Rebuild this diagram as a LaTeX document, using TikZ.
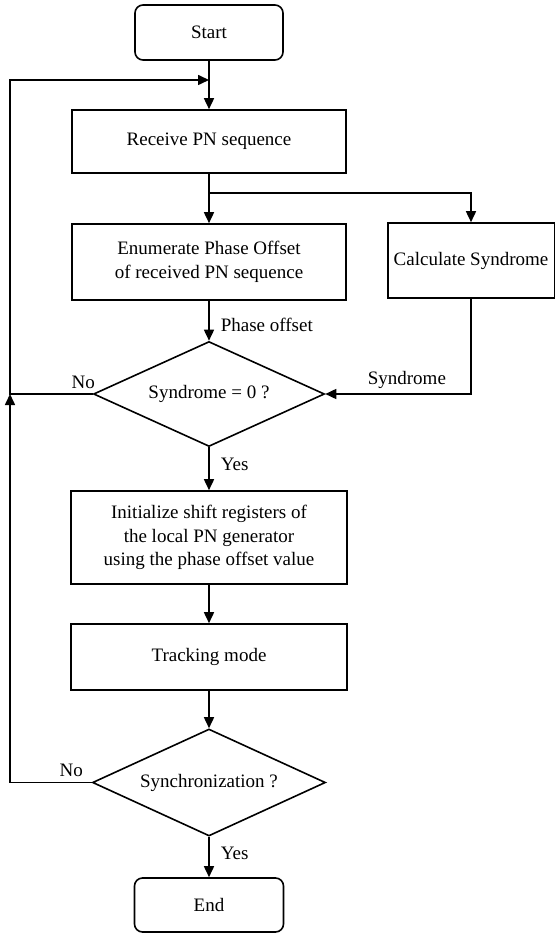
\documentclass[tikz,border=0pt]{standalone}
\usepackage{fontspec}
\setmainfont{Liberation Serif}
\usetikzlibrary{arrows.meta,shapes.geometric}
\tikzset{
  proc/.style={draw, line width=0.8pt, inner sep=3pt, align=center,
               font=\fontsize{9.5}{11.8}\selectfont},
  term/.style={proc, rounded corners=4pt},
  cond/.style={draw, diamond, aspect=2.2, inner sep=0pt, line width=0.8pt,
               font=\fontsize{9.5}{11.8}\selectfont},
  flow/.style={-{Triangle[length=5.5pt,width=5pt]}, line width=0.8pt},
  lbl/.style={font=\fontsize{9.5}{11.8}\selectfont, inner sep=2.5pt},
}
\begin{document}
\begin{tikzpicture}[x=0.5pt, y=-0.5pt]
  \useasboundingbox (0,0) rectangle (555,935);

  \node[term, minimum width=74pt, minimum height=27.5pt] (start) at (209,32.5) {Start};
  \node[proc, minimum width=137pt, minimum height=31.5pt] (recv) at (209,141.5) {Receive PN sequence};
  \node[proc, minimum width=137pt, minimum height=38pt] (enum) at (209,262)
    {Enumerate Phase Offset\\of received PN sequence};
  \node[proc, minimum width=83pt, minimum height=37.5pt] (calc) at (471,260.5) {Calculate Syndrome};
  \node[cond, minimum width=115.5pt, minimum height=52.5pt] (dec1) at (209,394) {Syndrome = 0 ?};
  \node[proc, minimum width=138pt, minimum height=46.5pt] (init) at (209,537.5)
    {Initialize shift registers of\\the local PN generator\\using the phase offset value};
  \node[proc, minimum width=138pt, minimum height=33pt] (track) at (209,657) {Tracking mode};
  \node[cond, minimum width=116.5pt, minimum height=53.5pt] (dec2) at (209,782.5) {Synchronization ?};
  \node[term, minimum width=74.5pt, minimum height=27pt] (end) at (209,905) {End};

  \coordinate (merge) at (209,80);
  \coordinate (loop) at (10,80);
  \coordinate (fork) at (209,193);

  \draw[flow] (start) -- (recv);
  \draw[flow] (recv) -- (enum);
  \draw[flow] (fork) -| (calc);
  \draw[flow] (enum) -- node[lbl, right, pos=0.6, xshift=3pt] {Phase offset} (dec1);
  \draw[flow] (calc) |- node[lbl, above, pos=0.72] {Syndrome} (dec1);
  \draw[flow] (dec1.west) node[lbl, above left, xshift=4pt] {No} -| (loop) -- (merge);
  \draw[flow] (dec1) -- node[lbl, right, pos=0.4, xshift=3pt] {Yes} (init);
  \draw[flow] (init) -- (track);
  \draw[flow] (track) -- (dec2);
  \draw[flow] (dec2.west) node[lbl, above left, xshift=-1.5pt] {No} -| (loop |- dec1.west);
  \draw[flow] (dec2) -- node[lbl, right, pos=0.4, xshift=3pt] {Yes} (end);
\end{tikzpicture}
\end{document}
